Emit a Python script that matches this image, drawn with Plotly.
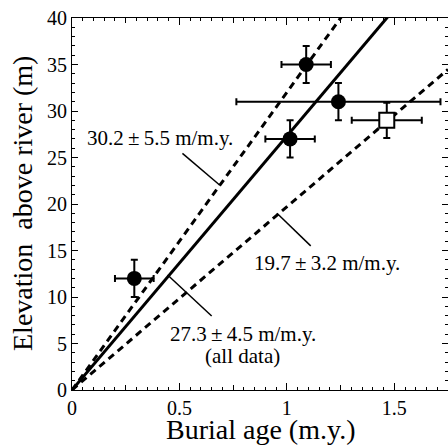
import plotly.graph_objects as go

# ---- data ----
age = [0.29, 1.09, 1.24, 1.015]
age_err = [0.09, 0.115, 0.475, 0.115]
elev = [12.0, 35.0, 31.0, 27.0]
elev_err = [2.0, 2.0, 2.0, 2.0]

open_age = [1.465]
open_age_err = [0.163]
open_elev = [29.0]
open_elev_err = [1.9]

# incision-rate lines through the origin (m per m.y.)
slope_all = 27.3
slope_upper = 32.0
slope_lower = 19.7
line_x = [0.0, 1.75]

x_tickvals = [0, 0.5, 1, 1.5]
x_ticktext = ["0", "0.5", "1", "1.5"]
x_midticks = [0.25, 0.75, 1.25, 1.75]
y_tickvals = [0, 5, 10, 15, 20, 25, 30, 35, 40]

label_texts = ["30.2\u2009±\u20095.5 m/m.y.", "19.7\u2009±\u20093.2 m/m.y.",
               "27.3\u2009±\u20094.5 m/m.y.", "(all data)"]
label_x = [0.059, 0.838, 0.794, 0.794]
label_y = [27.1, 13.7, 6.0, 3.66]
label_anchor = ["left", "left", "center", "center"]

leader_x0 = [0.514, 0.954, 0.445]
leader_y0 = [25.45, 19.0, 12.37]
leader_x1 = [0.687, 1.111, 0.650]
leader_y1 = [22.04, 15.5, 7.96]

FONT = "Liberation Serif"

fig = go.Figure()

# lines
fig.add_trace(go.Scatter(x=line_x, y=[slope_upper * v for v in line_x], mode="lines",
                         line=dict(color="black", width=3, dash="7px,5px"),
                         hoverinfo="skip", showlegend=False))
fig.add_trace(go.Scatter(x=line_x, y=[slope_lower * v for v in line_x], mode="lines",
                         line=dict(color="black", width=3, dash="7px,5px"),
                         hoverinfo="skip", showlegend=False))
fig.add_trace(go.Scatter(x=line_x, y=[slope_all * v for v in line_x], mode="lines",
                         line=dict(color="black", width=3),
                         hoverinfo="skip", showlegend=False))

# filled points
fig.add_trace(go.Scatter(
    x=age, y=elev, mode="markers",
    marker=dict(symbol="circle", size=15, color="black"),
    error_x=dict(type="data", array=age_err, color="black", thickness=2, width=3.5),
    error_y=dict(type="data", array=elev_err, color="black", thickness=2, width=3.5),
    hoverinfo="skip", showlegend=False))

# open square
fig.add_trace(go.Scatter(
    x=open_age, y=open_elev, mode="markers",
    marker=dict(symbol="square", size=15, color="white",
                line=dict(color="black", width=2)),
    error_x=dict(type="data", array=open_age_err, color="black", thickness=2, width=3.5),
    error_y=dict(type="data", array=open_elev_err, color="black", thickness=2, width=3.5),
    hoverinfo="skip", showlegend=False))

# invisible trace for the mid-tick overlay axis
fig.add_trace(go.Scatter(x=[0], y=[0], xaxis="x2", mode="markers",
                         marker=dict(opacity=0), hoverinfo="skip", showlegend=False))

# leader lines
for x0, y0, x1, y1 in zip(leader_x0, leader_y0, leader_x1, leader_y1):
    fig.add_shape(type="line", x0=x0, y0=y0, x1=x1, y1=y1, xref="x", yref="y",
                  line=dict(color="black", width=1.5))

for t, x, y, a in zip(label_texts, label_x, label_y, label_anchor):
    fig.add_annotation(text=t, x=x, y=y, xref="x", yref="y", showarrow=False,
                       xanchor=a, yanchor="middle",
                       font=dict(family=FONT, size=21, color="black"))

# axis titles
fig.add_annotation(text="Burial age (m.y.)", x=0.5, y=0, xref="paper", yref="paper",
                   xanchor="center", yanchor="middle", yshift=-39, showarrow=False,
                   font=dict(family=FONT, size=28, color="black"))
fig.add_annotation(text="Elevation\u00a0 above river (m)", x=0, y=0.5, xref="paper",
                   yref="paper", xanchor="center", yanchor="middle", xshift=-50,
                   textangle=-90, showarrow=False,
                   font=dict(family=FONT, size=28, color="black"))

axis_common = dict(showline=True, linecolor="black", linewidth=1, mirror="ticks",
                   ticks="inside", tickcolor="black", tickwidth=1,
                   showgrid=False, zeroline=False, automargin=False,
                   tickfont=dict(family=FONT, size=20, color="black"))

fig.update_layout(
    template="none",
    width=448, height=447,
    margin=dict(l=72, r=0, t=18, b=57),
    paper_bgcolor="white", plot_bgcolor="white",
    hovermode=False,
    xaxis=dict(range=[0, 1.75], tickmode="array", tickvals=x_tickvals, ticktext=x_ticktext,
               ticklen=7,
               minor=dict(dtick=0.05, tick0=0, ticklen=3, ticks="inside", tickcolor="black"),
               **axis_common),
    xaxis2=dict(range=[0, 1.75], overlaying="x", side="bottom", tickmode="array",
                tickvals=x_midticks, ticks="inside", ticklen=5, tickcolor="black",
                showticklabels=False, showline=False, mirror="ticks", showgrid=False,
                zeroline=False, automargin=False),
    yaxis=dict(range=[0, 40], tickmode="array", tickvals=y_tickvals, ticklen=6,
               minor=dict(dtick=1, tick0=0, ticklen=3, ticks="inside", tickcolor="black"),
               **axis_common),
)

# remove the default page margin so the figure sits at the window's top-left corner
fig.write_html("out.html",
               config={"displayModeBar": False, "staticPlot": True},
               post_script="document.body.style.margin='0';document.body.style.overflow='hidden';")
